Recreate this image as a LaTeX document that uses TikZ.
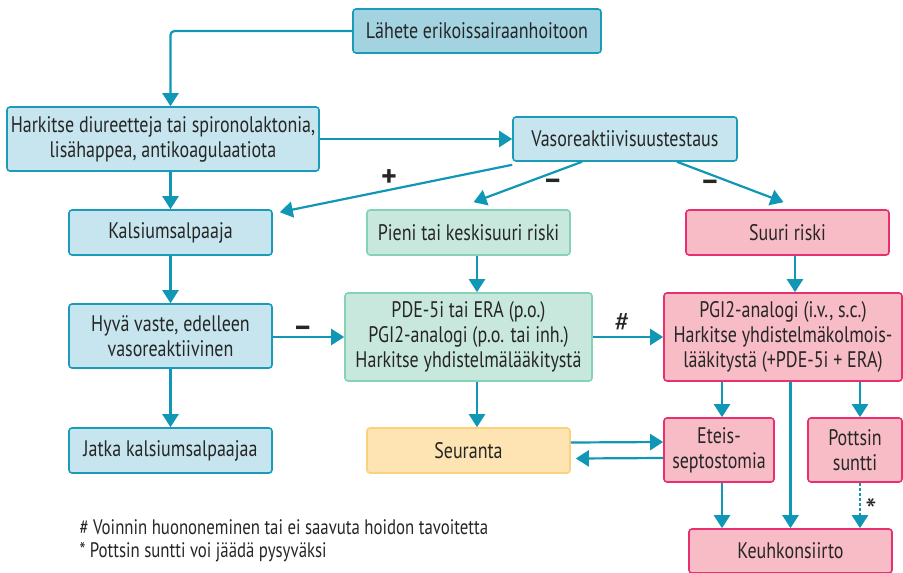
\documentclass[tikz,border=0pt]{standalone}
\usepackage{fontspec}
\setmainfont{PT Sans}[FakeStretch=0.8]
\newfontfamily\signfont{PT Sans}
\usetikzlibrary{arrows.meta}
\definecolor{arrowteal}{HTML}{0F97B5}
\definecolor{blueline}{HTML}{1A9CB8}
\definecolor{bluedark}{HTML}{A3D3E1}
\definecolor{bluelight}{HTML}{C7E5EE}
\definecolor{greenline}{HTML}{86D2B6}
\definecolor{greenfill}{HTML}{C9E8DD}
\definecolor{pinkline}{HTML}{E8306F}
\definecolor{pinkfill}{HTML}{F7BCC5}
\definecolor{yellowline}{HTML}{FBD27C}
\definecolor{yellowfill}{HTML}{FDE4B2}
\begin{document}
\begin{tikzpicture}[x=1pt,y=-1pt,
    font=\fontsize{22.5}{25}\selectfont,
    box/.style={draw, line width=1.6pt, rounded corners=3pt, align=center,
                inner sep=0pt, text=black!85},
    bluebox/.style={box, draw=blueline, fill=bluelight},
    greenbox/.style={box, draw=greenline, fill=greenfill},
    pinkbox/.style={box, draw=pinkline, fill=pinkfill},
    yellowbox/.style={box, draw=yellowline, fill=yellowfill},
    arr/.style={draw=arrowteal, line width=2.2pt,
                -{Triangle[length=13pt,width=16pt]}},
    sign/.style={font=\signfont\fontsize{30}{30}\selectfont\bfseries, text=black!85, inner sep=1pt}]
      \useasboundingbox (0,0) rectangle (903,573);

      % left column
      \node[bluebox, fill=bluedark, minimum width=248, minimum height=44] (lahete) at (477,31) {L\"ahete erikoissairaanhoitoon};
      \node[bluebox, minimum width=312, minimum height=64] (harkitse) at (163,139) {Harkitse diureetteja tai spironolaktonia,\\lis\"ahappea, antikoagulaatiota};
      \node[bluebox, minimum width=224, minimum height=44] (vaso) at (625,139) {Vasoreaktiivisuustestaus};
      \node[bluebox, minimum width=203, minimum height=45] (kalsium) at (170.5,232.5) {Kalsiumsalpaaja};
      \node[bluebox, minimum width=203, minimum height=64] (hyva) at (170.5,336) {Hyv\"a vaste, edelleen\\vasoreaktiivinen};
      \node[bluebox, minimum width=203, minimum height=45] (jatka) at (170.5,450.5) {Jatka kalsiumsalpaajaa};

      % middle column
      \node[greenbox, minimum width=203, minimum height=45] (pieni) at (468.5,232.5) {Pieni tai keskisuuri riski};
      \node[greenbox, minimum width=247, minimum height=88] (pde) at (468.5,337) {PDE-5i tai ERA (p.o.)\\PGI2-analogi (p.o. tai inh.)\\Harkitse yhdistelm\"al\"a\"akityst\"a};
      \node[yellowbox, minimum width=203, minimum height=45] (seuranta) at (468.5,450.5) {Seuranta};

      % right column
      \node[pinkbox, minimum width=203, minimum height=45] (suuri) at (787.5,232.5) {Suuri riski};
      \node[pinkbox, minimum width=238, minimum height=88] (pgi) at (783,337) {PGI2-analogi (i.v., s.c.)\\Harkitse yhdistelm\"akolmois-\\l\"a\"akityst\"a (+PDE-5i + ERA)};
      \node[pinkbox, minimum width=110, minimum height=64] (eteis) at (719,450) {Eteis-\\septostomia};
      \node[pinkbox, minimum width=94, minimum height=64] (pottsin) at (855,450) {Pottsin\\suntti};
      \node[pinkbox, minimum width=203, minimum height=44] (keuhko) at (790.5,551) {Keuhkonsiirto};

      % connectors
      \draw[arr, rounded corners=4pt] (lahete.west) -| (harkitse.north -| kalsium.north);
      \draw[arr] (harkitse.south -| kalsium.north) -- (kalsium.north);
      \draw[arr] (harkitse) -- (vaso.west);
      \draw[arr] ([yshift=-3pt]vaso.south west) -- ([xshift=7pt,yshift=-3pt]kalsium.north east)
            node[sign, pos=0.53, above=1pt] {+};
      \draw[arr] ([xshift=-43pt]vaso.south) -- ([xshift=5pt,yshift=7pt]pieni.north)
            node[sign, pos=0.27, below=4pt] {\textendash};
      \draw[arr] ([xshift=52pt]vaso.south) -- ([xshift=-4pt,yshift=7pt]suuri.north)
            node[sign, pos=0.31, below=4pt] {\textendash};
      \draw[arr] (kalsium) -- (hyva);
      \draw[arr] (hyva) -- (jatka);
      \draw[arr] (hyva.east |- pde) -- (pde.west)
            node[sign, pos=0.42, above=-2pt] {\textendash};
      \draw[arr] (pieni.south -| 477,0) -- (pde.north -| 477,0);
      \draw[arr] (pde.south -| 477,0) -- (seuranta.north -| 477,0);
      \draw[arr] (pde) -- (pgi.west)
            node[pos=0.42, above=1pt, text=black!85, font=\signfont\fontsize{28}{28}\selectfont] {\#};
      \draw[arr] (suuri.south -| 795,0) -- (pgi.north -| 795,0);
      \draw[arr] ([yshift=8pt]seuranta.east) -- ([yshift=8pt]eteis.west);
      \draw[arr] ([yshift=-8pt]eteis.west) -- ([xshift=5pt,yshift=-8pt]seuranta.east);
      \draw[arr] (pgi.south -| 722,0) -- (eteis.north -| 722,0);
      \draw[arr] (pgi.south -| keuhko.north) -- (keuhko.north);
      \draw[arr] (pgi.south -| 860,0) -- (pottsin.north -| 860,0);
      \draw[arr] (eteis.south -| 722,0) -- (keuhko.north -| 722,0);
      \draw[arr, dash pattern=on 3pt off 2pt] (pottsin.south -| 860,0) -- (keuhko.north -| 860,0)
            node[pos=0.6, right=1pt, text=black!85, font=\signfont\fontsize{32}{32}\selectfont] {*};

      % footnotes
      \node[anchor=west, text=black!85, font=\fontsize{21}{25}\selectfont] (note1) at (76,527) {\# Voinnin huononeminen tai ei saavuta hoidon tavoitetta};
      \node[anchor=west, text=black!85, font=\fontsize{21}{25}\selectfont] (note2) at (76,552) {* Pottsin suntti voi j\"a\"ad\"a pysyv\"aksi};
\end{tikzpicture}
\end{document}
